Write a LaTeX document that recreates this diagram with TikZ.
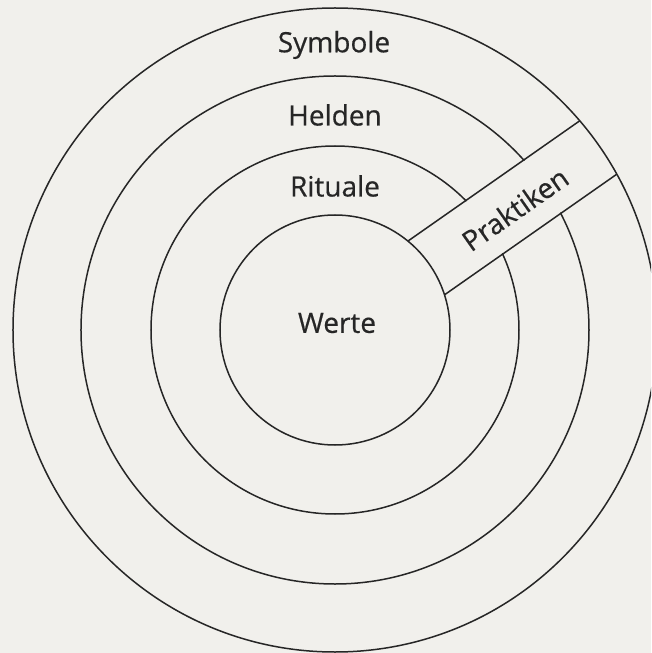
\documentclass[tikz,border=0pt]{standalone}
\usepackage{fontspec}
\setmainfont{Open Sans}
\newfontfamily\zwfont{Open Sans}[FakeBold=0.5]
\usetikzlibrary{positioning}
\definecolor{zwPaper}{HTML}{F1F0EC}
\definecolor{zwInk}{HTML}{262626}

\begin{document}
\begin{tikzpicture}[x=1pt,y=1pt,
    ring/.style={draw=zwInk,line width=1.5pt},
    layer/.style={text=zwInk,inner sep=0pt,
                  font=\zwfont\fontsize{28}{32}\selectfont}]
  % paper and frame
  \fill[zwPaper] (-335,-323) rectangle (316,330);
  \useasboundingbox (-335,-323) rectangle (316,330);
  \clip (-335,-323) rectangle (316,330);

  % the four layers
  \draw[ring] (0,0) circle (115);
  \draw[ring] (0,0) circle (184);
  \draw[ring] (0,0) circle (254);
  \draw[ring] (0,0) circle (322);

  % band for the practices
  \begin{scope}[rotate=35]
    \fill[zwPaper] (118,-33) rectangle (302,30);
  \end{scope}
  \coordinate (bandTopIn)  at (50.64:115);
  \coordinate (bandTopOut) at (40.52:322);
  \coordinate (bandLowIn)  at (17.8:115);
  \coordinate (bandLowOut) at (28.94:322);
  \draw[ring] (bandTopIn) -- (bandTopOut);
  \draw[ring] (bandLowIn) -- (bandLowOut);

  % labels
  \node[layer] (symbole) at (-1,285) {Symbole};
  \node[layer] (helden)  at (0,215)  {Helden};
  \node[layer] (rituale) at (0,144)  {Rituale};
  \node[layer] (werte)   at (2,7)    {Werte};
  \node[layer,rotate=35] (praktiken) at (180,121) {Praktiken};
\end{tikzpicture}
\end{document}
